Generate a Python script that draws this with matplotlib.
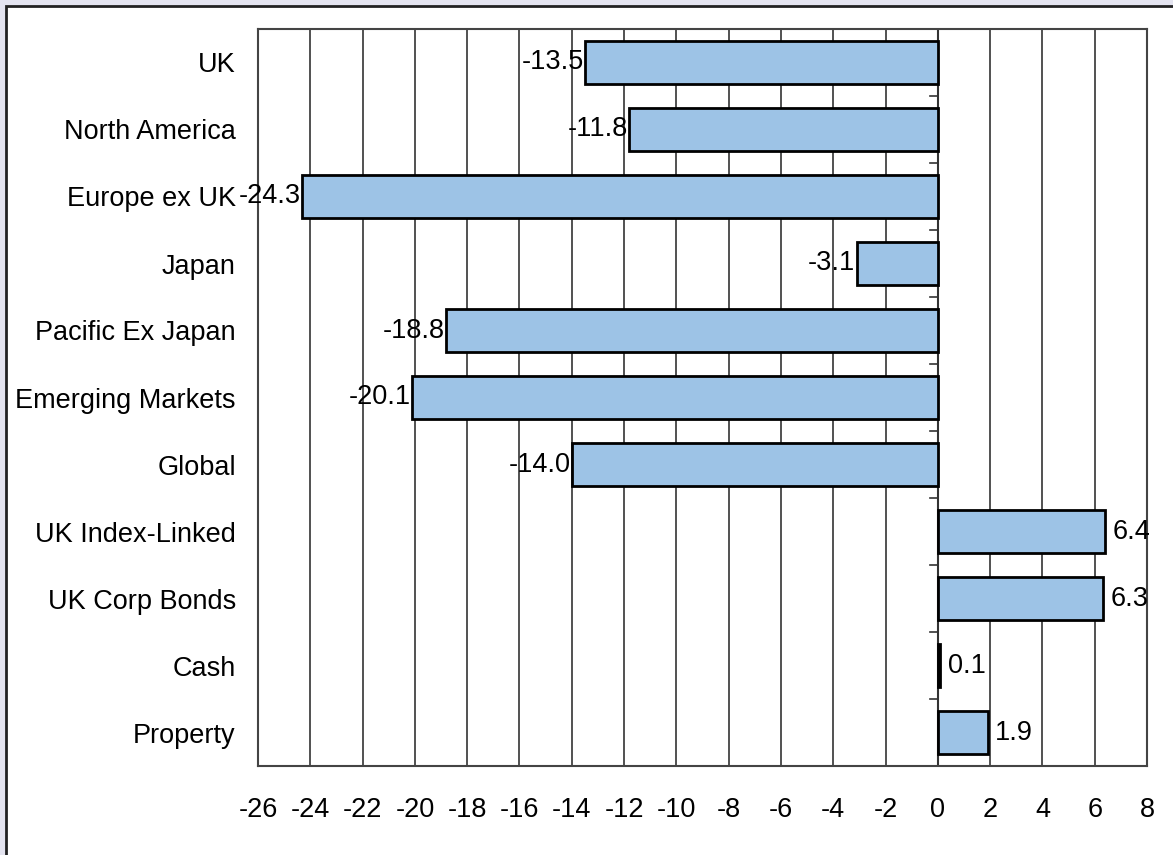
import matplotlib
matplotlib.use("Agg")
from matplotlib import pyplot as plt
from matplotlib.patches import Rectangle

categories = ["UK", "North America", "Europe ex UK", "Japan", "Pacific Ex Japan",
              "Emerging Markets", "Global", "UK Index-Linked", "UK Corp Bonds",
              "Cash", "Property"]
values = [-13.5, -11.8, -24.3, -3.1, -18.8, -20.1, -14.0, 6.4, 6.3, 0.1, 1.9]
x_ticks = list(range(-26, 9, 2))

plt.rcParams["font.family"] = ["Liberation Sans", "DejaVu Sans"]
fs = 19.5

fig = plt.figure(figsize=(11.73, 8.55), dpi=100)
fig.patch.set_facecolor("#e4e4f0")
# white inner panel with dark border
fig.patches.append(Rectangle((6 / 1173, -0.01), 1.02, 1 - 6 / 855 + 0.01,
                             transform=fig.transFigure, facecolor="white",
                             edgecolor="#222222", linewidth=2, zorder=-5))

ax = fig.add_axes([258 / 1173, 1 - 766 / 855, (1147 - 258) / 1173, (766 - 29) / 855])
ax.set_facecolor("white")

ypos = list(range(len(categories)))
ax.barh(ypos, values, height=0.64, color="#9dc3e6", edgecolor="black",
        linewidth=2, zorder=3)

for y, v in zip(ypos, values):
    if v < 0:
        ax.text(v - 0.05, y, f"{v:.1f}", ha="right", va="center", fontsize=fs, zorder=4)
    else:
        ax.text(v + 0.3, y, f"{v:.1f}", ha="left", va="center", fontsize=fs, zorder=4)

ax.set_xlim(-26, 8)
ax.set_ylim(len(categories) - 0.5, -0.5)
ax.set_xticks(x_ticks)
ax.set_xticklabels([str(t) for t in x_ticks])
ax.set_yticks(ypos)
ax.set_yticklabels(categories)
ax.tick_params(axis="both", length=0, labelsize=fs)
ax.tick_params(axis="x", pad=22)
ax.tick_params(axis="y", pad=16)
ax.grid(axis="x", color="#333333", linewidth=1.2, zorder=1)

for s in ax.spines.values():
    s.set_color("#444444")
    s.set_linewidth(1.5)

# category boundary ticks on the zero line
for b in range(len(categories) + 1):
    ax.plot([-0.3, 0], [b - 0.5, b - 0.5], color="#333333", linewidth=1.2,
            zorder=2, clip_on=False)
ax.axvline(0, color="#333333", linewidth=1.5, zorder=2)

fig.savefig("out.png", dpi=100)
